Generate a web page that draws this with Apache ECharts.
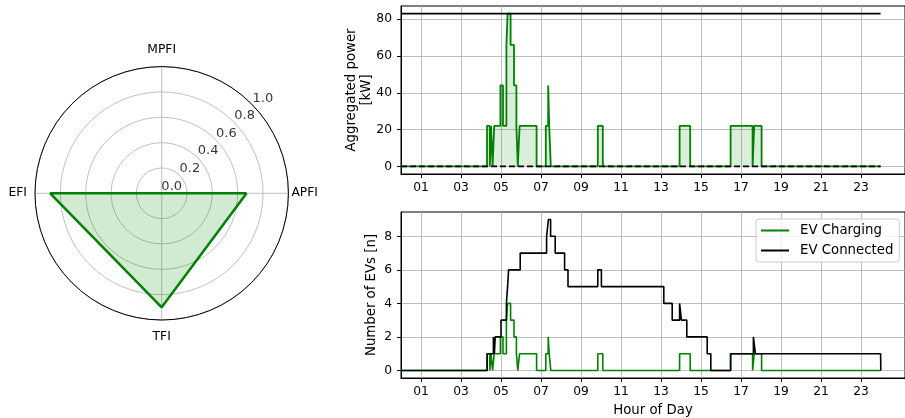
<!DOCTYPE html>
<html><head><meta charset="utf-8">
<script src="https://cdn.jsdelivr.net/npm/echarts@6/dist/echarts.min.js"></script>
<style>html,body{margin:0;padding:0;background:#fff}#c{width:905px;height:418px}</style>
</head><body><div id="c"></div>
<script>
// ---- data ----
const radarLabels = ['APFI', 'MPFI', 'EFI', 'TFI'];
const radarValues = [0.67, 0.0, 0.88, 0.90];
const radialTicks = [0.0, 0.2, 0.4, 0.6, 0.8, 1.0];

const hourTicks = [1, 3, 5, 7, 9, 11, 13, 15, 17, 19, 21, 23];
const powerTicks = [0, 20, 40, 60, 80];
const evTicks = [0, 2, 4, 6, 8];

const chargingTimes  = [0, 4.30, 4.44, 4.50, 4.58, 4.66, 4.97, 5.10, 5.27, 5.33, 5.48, 5.65, 5.77, 5.84, 5.93, 6.78, 7.24, 7.36, 7.41, 7.49, 9.84, 10.09, 13.93, 14.46, 16.48, 17.58, 17.66, 18.03, 23.98];
const chargingCounts = [0, 1, 0, 1, 0, 1, 2, 1, 3, 4, 3, 2, 1, 0, 1, 0, 1, 2, 1, 0, 1, 0, 1, 0, 1, 0, 1, 0, 0];
const chargingPowerKW = [0, 22, 0, 22, 0, 22, 44, 22, 66, 83, 66, 44, 22, 0, 22, 0, 22, 44, 22, 0, 22, 0, 22, 0, 22, 0, 22, 0, 0];

const connectedTimes  = [0, 4.31, 4.62, 4.67, 4.71, 5.00, 5.27, 5.33, 5.38, 5.96, 7.28, 7.37, 7.48, 7.71, 8.18, 8.35, 9.84, 10.02, 13.14, 13.56, 13.93, 14.02, 14.29, 15.31, 15.49, 16.48, 17.62, 17.72, 23.98, 23.99];
const connectedCounts = [0, 1, 2, 1, 2, 3, 4, 5, 6, 7, 8, 9, 8, 7, 6, 5, 6, 5, 4, 3, 4, 3, 2, 1, 0, 1, 2, 1, 1, 0];

const powerLimitKW = 83;
const dayStart = 0;
const dayEnd = 23.98;

// ---- helpers ----
const zip = (xs, ys) => xs.map((x, i) => [x, ys[i]]);
const FONT = 'DejaVu Sans';
const GRID_COLOR = '#b0b0b0';
const GREEN = '#008000';
const TICK_FS = 12.3;
const LABEL_FS = 13.3;
const angleStep = 360 / radarLabels.length;

function xAxisFor(gridIndex, withName) {
  return {
    type: 'value', gridIndex: gridIndex, min: 0, max: 25.2,
    axisLine: { show: true, onZero: false, lineStyle: { color: '#000', width: 1 } },
    axisTick: { show: true, length: 4, customValues: hourTicks, lineStyle: { color: '#000' } },
    axisLabel: { customValues: hourTicks, color: '#000', fontSize: TICK_FS, fontFamily: FONT, margin: 8,
      formatter: v => String(v).padStart(2, '0') },
    splitLine: { show: true, lineStyle: { color: GRID_COLOR, width: 0.8 } },
    name: withName ? 'Hour of Day' : '', nameLocation: 'middle', nameGap: 26, nameMoveOverlap: false,
    nameTextStyle: { color: '#000', fontSize: LABEL_FS, fontFamily: FONT }
  };
}
function yAxisFor(gridIndex, min, max, ticks, name, gap) {
  return {
    type: 'value', gridIndex: gridIndex, min: min, max: max,
    axisLine: { show: true, onZero: false, lineStyle: { color: '#000', width: 1 } },
    axisTick: { show: true, length: 4, customValues: ticks, lineStyle: { color: '#000' } },
    axisLabel: { customValues: ticks, color: '#000', fontSize: TICK_FS, fontFamily: FONT, margin: 9 },
    splitLine: { show: true, lineStyle: { color: GRID_COLOR, width: 0.8 } },
    name: name, nameLocation: 'middle', nameRotate: 90, nameGap: gap, nameMoveOverlap: false,
    nameTextStyle: { color: '#000', fontSize: LABEL_FS, fontFamily: FONT, lineHeight: 15, align: 'center' }
  };
}

const radarData = radarValues.map((v, i) => [v, i * angleStep]);
radarData.push([radarValues[0], 360]);

// label box padding by side of the circle (right, top, left, bottom)
const sidePad = { 0: [0, 0, 0, 0], 90: [8, 0, 8, 0], 180: [0, 5, 0, 0], 270: [8, 0, 8, 0] };
const richSides = {};
Object.keys(sidePad).forEach(k => {
  richSides['s' + k] = { fontSize: TICK_FS, fontFamily: FONT, color: '#000', padding: sidePad[k] };
});

const option = {
  animation: false,
  backgroundColor: '#fff',
  textStyle: { fontFamily: FONT },
  polar: [{ center: [161.7, 193.3], radius: 126.7 }],
  angleAxis: {
    polarIndex: 0, type: 'value', min: 0, max: 360, interval: angleStep,
    startAngle: 0, clockwise: false,
    axisLine: { show: true, lineStyle: { color: '#000', width: 1 } },
    axisTick: { show: false },
    axisLabel: { color: '#000', fontSize: TICK_FS, fontFamily: FONT, margin: 3,
      formatter: v => {
        if (v >= 360) return '';
        const idx = Math.round(v / angleStep);
        const ang = Math.round(idx * angleStep) % 360;
        return '{s' + ang + '|' + radarLabels[idx] + '}';
      },
      rich: richSides
    },
    splitLine: { show: true, lineStyle: { color: GRID_COLOR, width: 0.8 } }
  },
  radiusAxis: {
    polarIndex: 0, type: 'value', min: 0, max: 1, interval: 0.2,
    axisLine: { show: false }, axisTick: { show: false }, axisLabel: { show: false },
    splitLine: { show: true, lineStyle: { color: GRID_COLOR, width: 0.8 } }
  },
  grid: [
    { left: 401, right: -5, top: 6, bottom: 244, show: true, borderColor: '#000', borderWidth: 1 },
    { left: 401, right: -5, top: 212, bottom: 39.5, show: true, borderColor: '#000', borderWidth: 1 }
  ],
  xAxis: [xAxisFor(0, false), xAxisFor(1, true)],
  yAxis: [
    yAxisFor(0, -4.15, 87.15, powerTicks, 'Aggregated power\n[kW]', 27),
    yAxisFor(1, -0.45, 9.45, evTicks, 'Number of EVs [n]', 22)
  ],
  legend: {
    left: 756, top: 219, orient: 'vertical',
    data: ['EV Charging', 'EV Connected'],
    icon: 'rect', itemWidth: 28, itemHeight: 2, itemGap: 7,
    padding: [5, 6, 5, 5],
    backgroundColor: 'rgba(255,255,255,0.8)', borderColor: '#cccccc', borderWidth: 1, borderRadius: 3,
    textStyle: { color: '#000', fontSize: LABEL_FS, fontFamily: FONT, padding: [0, 0, 0, 6] }
  },
  series: [
    {
      type: 'line', coordinateSystem: 'polar', polarIndex: 0, data: radarData,
      symbol: 'none', silent: true,
      lineStyle: { color: GREEN, width: 2.5 },
      areaStyle: { color: 'rgba(0,128,0,0.25)' }, z: 3
    },
    {
      type: 'scatter', coordinateSystem: 'polar', polarIndex: 0,
      data: radialTicks.map(r => [r, 44]), symbolSize: 0, silent: true, z: 5,
      label: { show: true, position: 'inside', offset: [10, -7], color: '#000', fontSize: 13, fontFamily: FONT,
        formatter: p => p.value[0].toFixed(1) }
    },
    {
      type: 'line', name: 'Power', xAxisIndex: 0, yAxisIndex: 0, step: 'end', symbol: 'none',
      data: zip(chargingTimes, chargingPowerKW),
      lineStyle: { color: GREEN, width: 1.8 }, areaStyle: { color: 'rgba(0,128,0,0.2)' }, z: 2
    },
    {
      type: 'line', name: 'Limit', xAxisIndex: 0, yAxisIndex: 0, symbol: 'none',
      data: [[dayStart, powerLimitKW], [dayEnd, powerLimitKW]],
      lineStyle: { color: '#000', width: 1.8 }, z: 3
    },
    {
      type: 'line', name: 'Zero', xAxisIndex: 0, yAxisIndex: 0, symbol: 'none',
      data: [[dayStart, 0], [dayEnd, 0]],
      lineStyle: { color: '#000', width: 1.8, type: [6, 3] }, z: 4
    },
    {
      type: 'line', name: 'EV Charging', xAxisIndex: 1, yAxisIndex: 1, step: 'end', symbol: 'none',
      data: zip(chargingTimes, chargingCounts),
      lineStyle: { color: GREEN, width: 1.6 }, itemStyle: { color: GREEN }, z: 2
    },
    {
      type: 'line', name: 'EV Connected', xAxisIndex: 1, yAxisIndex: 1, step: 'end', symbol: 'none',
      data: zip(connectedTimes, connectedCounts),
      lineStyle: { color: '#000', width: 1.6 }, itemStyle: { color: '#000' }, z: 3
    }
  ]
};
const chart = echarts.init(document.getElementById('c'), null, { renderer: 'canvas' });
chart.setOption(option);
</script></body></html>
